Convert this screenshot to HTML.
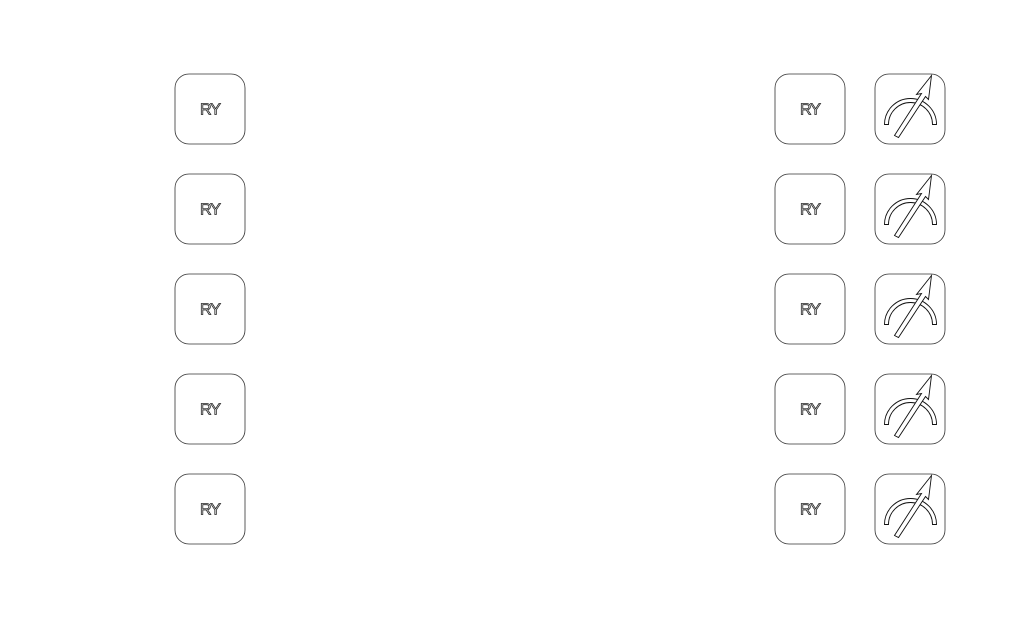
<!DOCTYPE html>
<html><head><meta charset="utf-8"><style>
html,body{margin:0;padding:0;background:#fff;}
svg{display:block;}
.box{fill:#fff;stroke:#333;stroke-width:0.8;}
.t{font-family:"Liberation Sans",sans-serif;font-size:16px;fill:#fff;stroke:#222;stroke-width:0.8;text-anchor:middle;letter-spacing:-1px;}
.ic{fill:#fff;stroke:#111;stroke-width:0.9;stroke-linejoin:miter;}
</style></head><body>
<svg width="1019" height="619" viewBox="0 0 1019 619" xmlns="http://www.w3.org/2000/svg">
<defs>
<g id="ry">
<rect class="box" x="0.5" y="0.5" width="70" height="70" rx="14"/>
<text class="t" x="35.5" y="41">RY</text>
</g>
<g id="ic">
<rect class="box" x="0.5" y="0.5" width="70" height="70" rx="14"/>
<path class="ic" d="M10,51 A25,25 0 0 1 62,51 L58,51 A21,21 0 0 0 14,51 Z"/>
<path class="ic" d="M57,2 L54,26 L51,23 L24,64 L20,62 L47,20 L42,21 Z"/>
</g>
</defs>
<g transform="translate(174.5,73.5)"><use href="#ry"/></g>
<g transform="translate(174.5,173.5)"><use href="#ry"/></g>
<g transform="translate(174.5,273.5)"><use href="#ry"/></g>
<g transform="translate(174.5,373.5)"><use href="#ry"/></g>
<g transform="translate(174.5,473.5)"><use href="#ry"/></g>
<g transform="translate(774.5,73.5)"><use href="#ry"/></g>
<g transform="translate(774.5,173.5)"><use href="#ry"/></g>
<g transform="translate(774.5,273.5)"><use href="#ry"/></g>
<g transform="translate(774.5,373.5)"><use href="#ry"/></g>
<g transform="translate(774.5,473.5)"><use href="#ry"/></g>
<g transform="translate(874.5,73.5)"><use href="#ic"/></g>
<g transform="translate(874.5,173.5)"><use href="#ic"/></g>
<g transform="translate(874.5,273.5)"><use href="#ic"/></g>
<g transform="translate(874.5,373.5)"><use href="#ic"/></g>
<g transform="translate(874.5,473.5)"><use href="#ic"/></g>
</svg>
</body></html>
